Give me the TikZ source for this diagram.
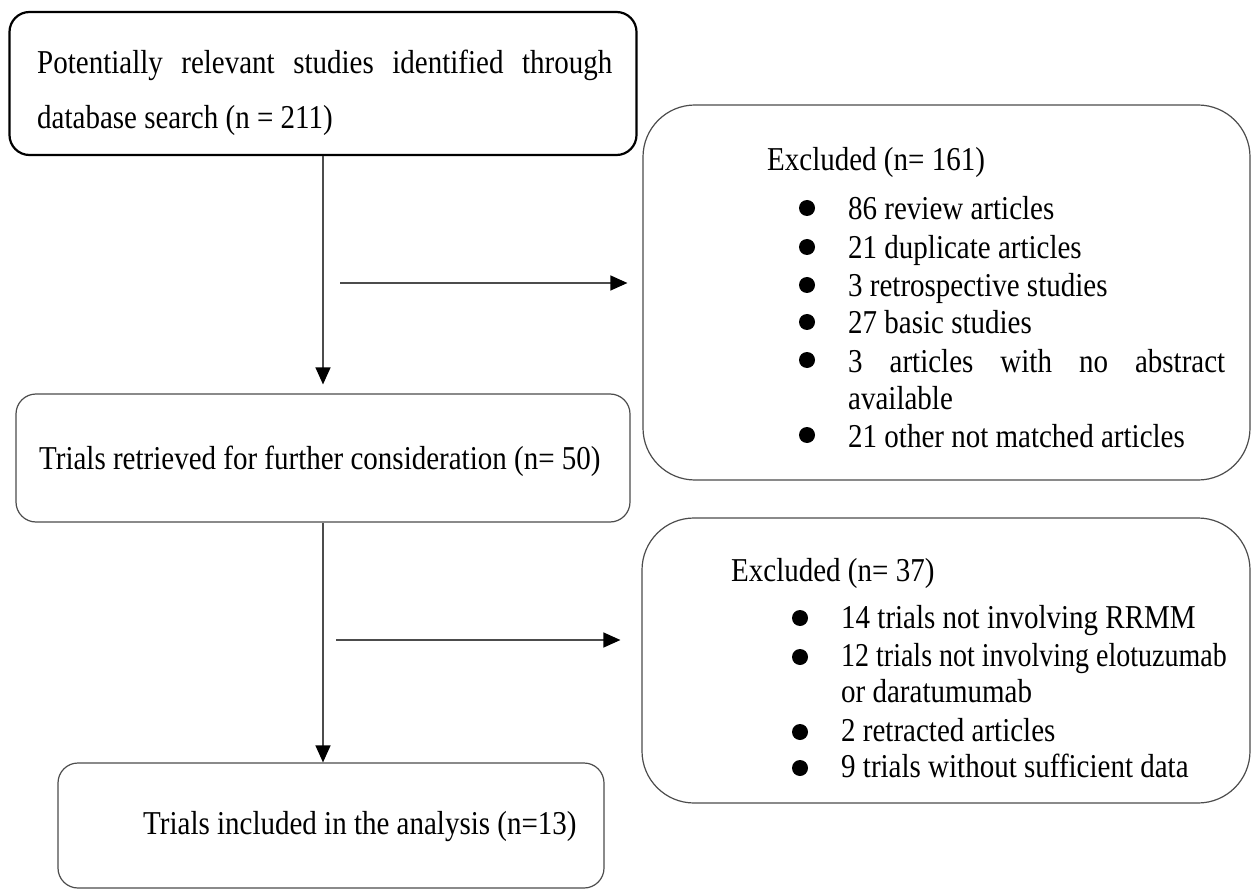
\documentclass[tikz,border=0pt]{standalone}
\usepackage{fontspec}
\usepackage{graphicx}
\setmainfont{Liberation Serif}
\usetikzlibrary{arrows.meta}
\newcommand{\vst}[1]{\scalebox{1}[1.15]{#1}}
\begin{document}
\begin{tikzpicture}[x=1pt,y=-1pt,
  box/.style={draw=black!70, line width=1.2pt, rounded corners=20pt, inner sep=0pt, fill=white},
  bigbox/.style={box, rounded corners=52pt},
  txt/.style={inner sep=0pt, anchor=base west, font=\fontsize{29}{38}\selectfont, text=black},
  arr/.style={draw=black!70, line width=1.3pt, -{Triangle[length=17pt,width=15pt,fill=black,color=black]}},
  dot/.style={fill=black}]
\useasboundingbox (0,0) rectangle (1252,890);

% boxes
\node[box, draw=black, line width=2.2pt, minimum width=627pt, minimum height=143pt] (A) at (323,83.5) {};
\node[bigbox, minimum width=607pt, minimum height=375pt] (B) at (946.5,292.5) {};
\node[box, minimum width=614pt, minimum height=128pt] (C) at (323,458) {};
\node[bigbox, minimum width=608pt, minimum height=285pt] (D) at (946,660.5) {};
\node[box, minimum width=546pt, minimum height=125pt] (E) at (331,825.5) {};

% box A text
\node[txt] (At1) at (37,74) {\vst{\hbox to 575pt{Potentially\hfill relevant\hfill studies\hfill identified\hfill through}}};
\node[txt] (At2) at (37,129) {\vst{database search (n = 211)}};

% box C text
\node[txt] (Ct) at (39,469) {\vst{Trials retrieved for further consideration (n= 50)}};

% box E text
\node[txt] (Et) at (143,834) {\vst{Trials included in the analysis (n=13)}};

% box B text
\node[txt] (Bh) at (767,171) {\vst{Excluded (n= 161)}};
\node[txt] (B1) at (848,220) {\vst{86 review articles}};
\node[txt] (B2) at (848,259) {\vst{21 duplicate articles}};
\node[txt] (B3) at (848,297) {\vst{3 retrospective studies}};
\node[txt] (B4) at (848,334) {\vst{27 basic studies}};
\node[txt] (B5) at (848,372) {\vst{\hbox to 377pt{3\hfill articles\hfill with\hfill no\hfill abstract}}};
\node[txt] (B5b) at (848,409) {\vst{available}};
\node[txt] (B6) at (848,447) {\vst{21 other not matched articles}};
\foreach \yy in {208,247,285,322,360,435} \fill[dot] (807,\yy) circle[radius=8pt];

% box D text
\node[txt] (Dh) at (731,581) {\vst{Excluded (n= 37)}};
\node[txt] (D1) at (841,628) {\vst{14 trials not involving RRMM}};
\node[txt] (D2) at (841,666) {\scalebox{0.965}[1.15]{12 trials not involving elotuzumab}};
\node[txt] (D2b) at (841,702) {\vst{or daratumumab}};
\node[txt] (D3) at (841,741) {\vst{2 retracted articles}};
\node[txt] (D4) at (841,777) {\vst{9 trials without sufficient data}};
\foreach \yy in {618,657,732,768} \fill[dot] (800,\yy) circle[radius=8pt];

% connectors
\coordinate (h1) at (340,283);
\coordinate (h2) at (336,640);
\draw[arr] (A.south) -- ([yshift=9pt]C.north);
\draw[arr, shorten >=15pt] (h1) -- (h1 -| B.west);
\draw[arr] (C.south) -- (C.south |- E.north);
\draw[arr, shorten >=21pt] (h2) -- (h2 -| D.west);
\end{tikzpicture}
\end{document}
